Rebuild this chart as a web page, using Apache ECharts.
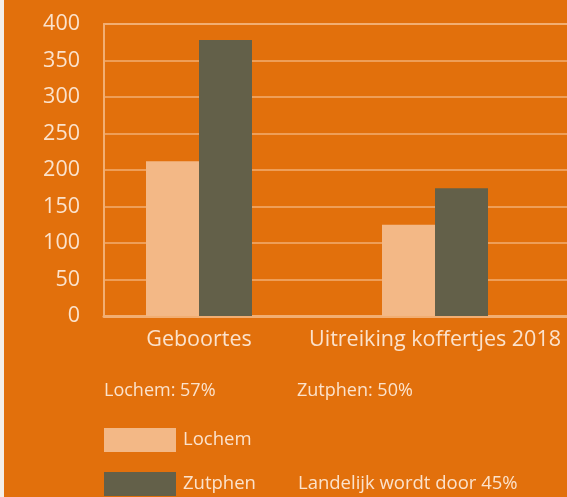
<!DOCTYPE html>
<html><head><meta charset="utf-8">
<script src="https://cdn.jsdelivr.net/npm/echarts@6/dist/echarts.min.js"></script>
<style>html,body{margin:0;padding:0;background:#fff;}#c{width:567px;height:497px;}</style>
</head><body><div id="c"></div>
<script>
const categories = ['Geboortes', 'Uitreiking koffertjes 2018'];
const lochem = [212, 125];
const zutphen = [378, 175];
const seriesNames = ['Lochem', 'Zutphen'];
const yMin = 0, yMax = 400, yStep = 50;
const notes = ['Lochem: 57%', 'Zutphen: 50%', 'Landelijk wordt door 45%'];

const BG = '#E2700C', LINE = '#F2AE72', TXT = '#FBE2CC';
const C_L = '#F3B886', C_Z = '#636049';
const FONT = 'Open Sans';
const chart = echarts.init(document.getElementById('c'));
chart.setOption({
  backgroundColor: BG,
  animation: false,
  textStyle: {fontFamily: FONT},
  grid: [
    {left: 81, right: 14, top: 24, bottom: 181},
    {left: 104, right: -10, top: 24, bottom: 181}
  ],
  xAxis: [
    {type: 'category', gridIndex: 0, data: categories,
     axisLine: {show: false}, axisTick: {show: false},
     axisLabel: {color: TXT, fontSize: 21.5, margin: 13, fontFamily: FONT, interval: 0, hideOverlap: false}},
    {type: 'category', gridIndex: 1, data: categories, position: 'bottom',
     axisLine: {show: true, lineStyle: {color: LINE, width: 3}}, axisTick: {show: false},
     axisLabel: {show: false}},
    {type: 'category', gridIndex: 1, data: categories, position: 'top',
     axisLine: {show: true, lineStyle: {color: LINE, width: 2}}, axisTick: {show: false},
     axisLabel: {show: false}}
  ],
  yAxis: [
    {type: 'value', gridIndex: 0, min: yMin, max: yMax, interval: yStep, show: false},
    {type: 'value', gridIndex: 1, min: yMin, max: yMax, interval: yStep,
     axisLine: {show: true, lineStyle: {color: LINE, width: 2}}, axisTick: {show: false},
     splitLine: {show: true, lineStyle: {color: LINE, width: 1.5}},
     axisLabel: {color: TXT, fontSize: 21.5, margin: 24, fontFamily: FONT}}
  ],
  legend: {
    orient: 'vertical', left: 104, top: 428, padding: 0, itemWidth: 72, itemHeight: 24, itemGap: 20,
    icon: 'rect', data: seriesNames,
    textStyle: {color: TXT, fontSize: 18.5, fontFamily: FONT, padding: [0, 0, 0, 2]}
  },
  series: [
    {name: seriesNames[0], type: 'bar', xAxisIndex: 0, yAxisIndex: 0, data: lochem,
     barWidth: 53, barGap: '0%', itemStyle: {color: C_L}},
    {name: seriesNames[1], type: 'bar', xAxisIndex: 0, yAxisIndex: 0, data: zutphen,
     barWidth: 53, barGap: '0%', itemStyle: {color: C_Z}}
  ],
  graphic: [
    {type: 'rect', shape: {x: 0, y: 0, width: 4, height: 497}, style: {fill: '#F4EEE8'}},
    {type: 'text', left: 104, top: 382, style: {text: notes[0], fill: TXT, fontSize: 18, fontFamily: FONT}},
    {type: 'text', left: 297, top: 382, style: {text: notes[1], fill: TXT, fontSize: 18, fontFamily: FONT}},
    {type: 'text', left: 298, top: 474, style: {text: notes[2], fill: TXT, fontSize: 18.5, fontFamily: FONT}}
  ]
});
</script></body></html>
